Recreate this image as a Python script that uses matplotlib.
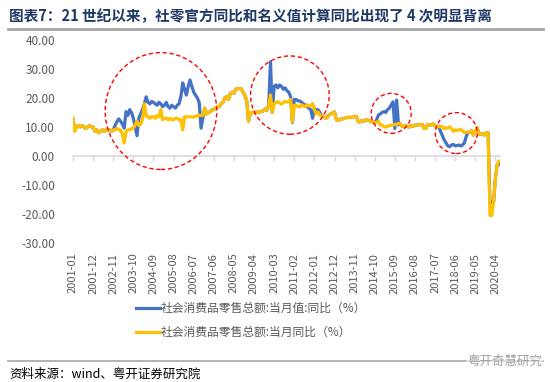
import matplotlib
matplotlib.use("Agg")
import matplotlib.pyplot as plt
from matplotlib.patches import Ellipse
from matplotlib.lines import Line2D
import numpy as np

plt.rcParams['font.family'] = ['Noto Sans CJK SC', 'DejaVu Sans']

# ---------------- data ----------------
# 社会消费品零售总额:当月同比 (official, yellow)
official = {
    2001: [13.0, 8.5, 10.0, 10.5, 10.0, 10.5, 10.0, 9.5, 10.0, 10.5, 10.0, 10.0],
    2002: [8.5, 9.0, 8.0, 8.5, 9.0, 8.5, 9.0, 9.0, 9.0, 8.5, 9.0, 9.0],
    2003: [9.6, 9.0, 9.0, 7.5, 4.5, 8.5, 9.0, 9.0, 9.5, 9.5, 10.7, 12.0],
    2004: [10.5, 11.0, 12.5, 18.0, 14.0, 13.5, 13.0, 13.5, 13.5, 13.0, 14.0, 13.5],
    2005: [16.0, 12.5, 13.0, 13.0, 12.5, 13.0, 12.5, 12.5, 13.0, 13.0, 12.5, 12.5],
    2006: [9.0, 13.5, 13.5, 13.5, 13.5, 13.5, 13.5, 13.5, 14.0, 14.0, 14.0, 14.0],
    2007: [16.5, 14.5, 15.0, 15.2, 15.9, 16.0, 16.5, 17.0, 17.0, 18.0, 18.5, 20.0],
    2008: [20.5, 19.5, 21.5, 22.0, 21.6, 23.0, 23.3, 23.2, 23.2, 22.0, 20.8, 19.0],
    2009: [12.0, 15.0, 15.0, 15.0, 15.2, 15.0, 15.2, 15.4, 15.5, 16.2, 15.8, 17.5],
    2010: [21.0, 15.0, 18.0, 18.5, 18.7, 18.3, 17.9, 18.4, 18.8, 18.6, 18.7, 19.5],
    2011: [11.7, 17.5, 17.4, 17.1, 16.9, 17.7, 17.2, 17.0, 17.7, 17.2, 17.3, 18.1],
    2012: [16.0, 14.5, 15.2, 14.1, 13.8, 13.7, 13.1, 13.2, 14.2, 14.5, 14.9, 15.2],
    2013: [12.5, 12.3, 12.6, 12.8, 12.9, 13.3, 13.2, 13.4, 13.3, 13.3, 13.7, 13.6],
    2014: [11.8, 11.8, 12.2, 11.9, 12.5, 12.4, 12.2, 11.9, 11.6, 11.5, 11.7, 11.9],
    2015: [10.7, 10.7, 10.2, 10.0, 10.1, 10.6, 10.5, 10.8, 10.9, 11.0, 11.2, 11.1],
    2016: [10.2, 10.2, 10.5, 10.1, 10.0, 10.6, 10.2, 10.6, 10.7, 10.8, 10.8, 10.9],
    2017: [9.5, 9.5, 10.9, 10.7, 10.7, 11.0, 10.4, 10.1, 10.3, 10.0, 10.2, 9.4],
    2018: [9.7, 9.7, 10.1, 9.4, 8.5, 9.0, 8.8, 9.0, 9.2, 8.6, 8.1, 8.2],
    2019: [8.2, 8.2, 8.7, 7.2, 8.6, 9.8, 7.6, 7.5, 7.8, 7.2, 8.0, 8.0],
    2020: [-20.5, -20.5, -15.8, -7.5, -2.8, -1.8],
}
# 社会消费品零售总额:当月值:同比 (computed from levels, blue)
computed = {
    2001: [12.5, 9.0, 10.0, 10.5, 10.0, 10.5, 10.0, 9.5, 10.0, 10.5, 10.0, 10.0],
    2002: [8.5, 9.0, 8.0, 8.5, 9.0, 8.5, 9.0, 9.0, 9.0, 8.5, 9.0, 10.5],
    2003: [11.8, 12.8, 12.0, 11.0, 9.6, 15.3, 14.0, 16.0, 15.0, 13.0, 10.0, 7.0],
    2004: [13.0, 14.5, 16.0, 18.0, 20.4, 18.5, 18.0, 18.8, 18.5, 18.0, 17.5, 18.5],
    2005: [18.0, 17.0, 17.5, 18.5, 17.0, 16.5, 17.5, 17.0, 16.5, 17.5, 18.0, 20.5],
    2006: [25.2, 23.0, 21.0, 24.0, 26.2, 24.0, 22.0, 21.0, 20.0, 18.5, 9.6, 13.0],
    2007: [16.5, 14.5, 15.0, 15.2, 15.9, 16.0, 16.5, 17.0, 17.0, 18.0, 18.5, 20.0],
    2008: [20.5, 19.5, 21.5, 22.0, 21.6, 23.0, 23.3, 23.2, 23.2, 22.0, 20.8, 19.0],
    2009: [12.0, 15.0, 15.0, 15.0, 15.2, 15.0, 15.2, 15.4, 15.5, 16.2, 15.8, 17.5],
    2010: [32.5, 15.0, 24.0, 24.5, 23.5, 24.5, 24.0, 23.0, 23.5, 22.5, 22.0, 20.5],
    2011: [11.5, 19.5, 19.5, 19.0, 19.0, 18.5, 18.0, 17.5, 17.0, 16.5, 16.0, 13.0],
    2012: [16.5, 15.5, 16.0, 15.0, 13.8, 13.7, 13.1, 13.2, 14.2, 14.5, 14.9, 15.2],
    2013: [12.5, 12.3, 12.6, 12.8, 12.9, 13.3, 13.2, 13.4, 13.3, 13.3, 13.7, 13.6],
    2014: [11.8, 11.8, 12.2, 11.9, 12.5, 12.4, 12.2, 11.9, 11.6, 11.5, 12.5, 14.1],
    2015: [14.5, 15.0, 15.3, 15.0, 16.0, 16.5, 17.6, 18.7, 9.5, 19.3, 10.7, 11.1],
    2016: [10.2, 10.2, 10.5, 10.1, 10.0, 10.6, 10.2, 10.6, 10.7, 10.8, 10.8, 10.9],
    2017: [9.5, 9.5, 10.9, 10.7, 10.7, 11.0, 10.4, 10.1, 10.3, 8.5, 7.0, 5.5],
    2018: [4.5, 3.5, 3.2, 3.8, 4.0, 3.5, 3.6, 3.8, 3.5, 3.8, 4.5, 6.7],
    2019: [8.2, 8.2, 8.7, 7.2, 8.6, 9.8, 7.6, 7.5, 7.8, 7.2, 8.0, 8.0],
    2020: [-16.0, -16.0, -15.8, -7.5, -2.8, -2.8],
}
tick_labels = ["2001-01", "2001-12", "2002-11", "2003-10", "2004-09", "2005-08",
               "2006-07", "2007-06", "2008-05", "2009-04", "2010-03", "2011-02",
               "2012-01", "2012-12", "2013-11", "2014-10", "2015-09", "2016-08",
               "2017-07", "2018-06", "2019-05", "2020-04"]
label_blue = "社会消费品零售总额:当月值:同比（%）"
label_yellow = "社会消费品零售总额:当月同比（%）"
title = "图表7：21 世纪以来，社零官方同比和名义值计算同比出现了 4 次明显背离"
source = "资料来源：wind、粤开证券研究院"

# ---------------- build series ----------------
years = sorted(official)
months = [f"{y}-{m:02d}" for y in years for m in range(1, len(official[y]) + 1)]
y_off = np.array([v for y in years for v in official[y]])
y_cmp = np.array([v for y in years for v in computed[y]])
x = np.arange(len(months))
tick_pos = [months.index(t) for t in tick_labels]

# ---------------- figure ----------------
W, H = 550, 382
fig = plt.figure(figsize=(W / 100, H / 100), dpi=100)
ax = fig.add_axes([73 / W, 1 - 243 / H, (500 - 73) / W, (243 - 40) / H])

BLUE = "#4472C4"
YELLOW = "#FFC000"
GRAY = "#595959"

ax.plot(x, y_cmp, color=BLUE, lw=2.3, solid_joinstyle='round', zorder=3)
ax.plot(x, y_off, color=YELLOW, lw=2.3, solid_joinstyle='round', zorder=4)

ax.set_xlim(0, len(months) - 0.5)
ax.set_ylim(-30, 40)
ax.set_yticks(np.arange(-30, 41, 10))
ax.yaxis.set_major_formatter(matplotlib.ticker.FuncFormatter(lambda v, p: f"{v:.2f}"))
ax.tick_params(axis='y', length=0, pad=13, labelsize=8.5, labelcolor=GRAY)
ax.set_xticks(tick_pos)
ax.set_xticklabels(tick_labels, rotation=90, fontsize=8, color=GRAY)
ax.tick_params(axis='x', length=0, pad=7)
for s in ax.spines.values():
    s.set_visible(False)

# zero axis line with tick marks
sec = ax.secondary_xaxis(30 / 70)
sec.set_xticks(tick_pos)
sec.set_xticklabels([])
sec.tick_params(axis='x', direction='out', length=3.5, color="#D9D9D9", width=1)
sec.spines['bottom'].set_color("#D9D9D9")
sec.spines['bottom'].set_linewidth(1.2)
for k in ['top', 'left', 'right']:
    if k in sec.spines:
        sec.spines[k].set_visible(False)

# divergence circles (annotations)
circles = [(48.1, 15.5, 61, 40.3), (118.6, 21.0, 43, 27.0),
           (174.0, 14.7, 21.9, 13.8), (209.6, 7.9, 23.0, 14.1)]
for cx, cy, w, h in circles:
    e = Ellipse((cx, cy), w, h, fill=False, edgecolor="#FF0000", lw=1.0,
                linestyle=(0, (3, 2)), zorder=5, clip_on=False)
    ax.add_patch(e)

# legend
handles = [Line2D([], [], color=BLUE, lw=2.3), Line2D([], [], color=YELLOW, lw=2.3)]
leg = fig.legend(handles, [label_blue, label_yellow], loc='upper left',
                 bbox_to_anchor=(136 / W, 1 - 302 / H), frameon=False,
                 fontsize=8.5, handlelength=2.0, handletextpad=0.1,
                 labelspacing=0.95, borderaxespad=0, borderpad=0)
for t in leg.get_texts():
    t.set_color(GRAY)

# title and decorations
fig.text(9 / W, 1 - 16 / H, title, fontsize=10.5, fontweight='bold',
         color="#1F3864", va='center', ha='left')
fig.add_artist(Line2D([8 / W, 543 / W], [1 - 29 / H, 1 - 29 / H],
                      color="#A6A6A6", lw=2))
fig.add_artist(Line2D([8 / W, 543 / W], [1 - 361 / H, 1 - 361 / H],
                      color="#A6A6A6", lw=1.2))
fig.text(9 / W, 1 - 374 / H, source, fontsize=9, style='italic',
         color="black", va='center', ha='left')
fig.text(542 / W, 1 - 361 / H, "粤开奇慧研究", fontsize=9, color="#9E9E9E",
         va='center', ha='right',
         bbox=dict(facecolor='white', edgecolor='none', pad=0.5, alpha=0.6))

fig.savefig("out.png", dpi=100)
